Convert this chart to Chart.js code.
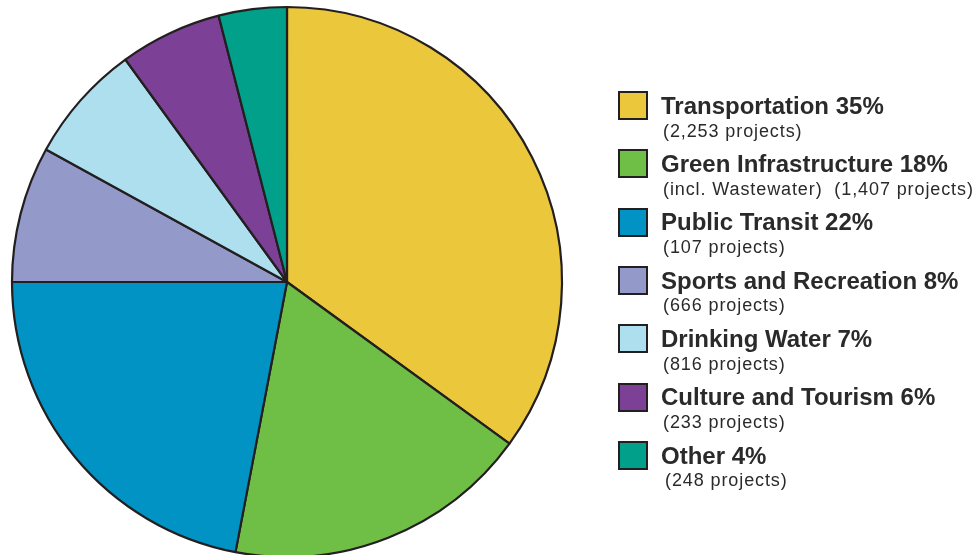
<!DOCTYPE html>
<html>
<head>
<meta charset="utf-8">
<script src="https://cdn.jsdelivr.net/npm/chart.js@4/dist/chart.umd.min.js"></script>
<style>
  html, body { margin: 0; padding: 0; width: 978px; height: 555px; overflow: hidden; background: #ffffff; }
  #pieBox { position: absolute; left: 0; top: 0; width: 574px; height: 564px; }
  #legendBox { position: absolute; left: 0; top: 0; width: 978px; height: 555px; font-family: "Liberation Sans", Arial, sans-serif; color: #2a2a2a; }
  .swatch { position: absolute; width: 26px; height: 25px; border: 2px solid #231f20; }
  .ttl { position: absolute; font-weight: bold; font-size: 24px; line-height: 24px; letter-spacing: 0px; white-space: pre; }
  .sub { position: absolute; font-size: 18px; line-height: 18px; letter-spacing: 0.9px; white-space: pre; }
</style>
</head>
<body>
<div id="pieBox"><canvas id="PieChart"></canvas></div>
<div id="legendBox"></div>
<script>
var Categories = ['Transportation', 'Green Infrastructure', 'Public Transit', 'Sports and Recreation', 'Drinking Water', 'Culture and Tourism', 'Other']
var Percent = [35, 18, 22, 8, 7, 6, 4]
var ProjectNotes = ['(2,253 projects)', '(incl. Wastewater)  (1,407 projects)', '(107 projects)', '(666 projects)', '(816 projects)', '(233 projects)', '(248 projects)']
var SliceColors = ['#ebc73c', '#6fbe45', '#0093c4', '#9399c9', '#addfef', '#7c4196', '#00a08a']

// legend on the right, two lines per entry
var legendHtml = ''
for (var i = 0; i < Categories.length; i++) {
    var rowY = 91 + i * 58.3
    legendHtml += '<div class="swatch" style="left:618px;top:' + rowY + 'px;background:' + SliceColors[i] + '"></div>'
    legendHtml += '<div class="ttl" style="left:661px;top:' + (rowY + 2.7) + 'px">' + Categories[i] + ' ' + Percent[i] + '%</div>'
    legendHtml += '<div class="sub" style="left:' + (i == 6 ? 665 : 663) + 'px;top:' + (rowY + 30.5) + 'px">' + ProjectNotes[i] + '</div>'
}
document.getElementById('legendBox').innerHTML = legendHtml

var config_Pie = {
    type: 'pie',
    data: {
        labels: Categories,
        datasets: [{
            data: Percent,
            backgroundColor: SliceColors,
            borderColor: '#231f20',
            borderWidth: 2.2
        }]
    },
    options: {
        responsive: true,
        maintainAspectRatio: false,
        animation: false,
        radius: 275,
        layout: { padding: 0 },
        plugins: {
            legend: { display: false },
            tooltip: { enabled: false }
        }
    }
}

var PieChartElement = document.getElementById('PieChart').getContext('2d');
var PieChart = new Chart(PieChartElement, config_Pie);
</script>
</body>
</html>
